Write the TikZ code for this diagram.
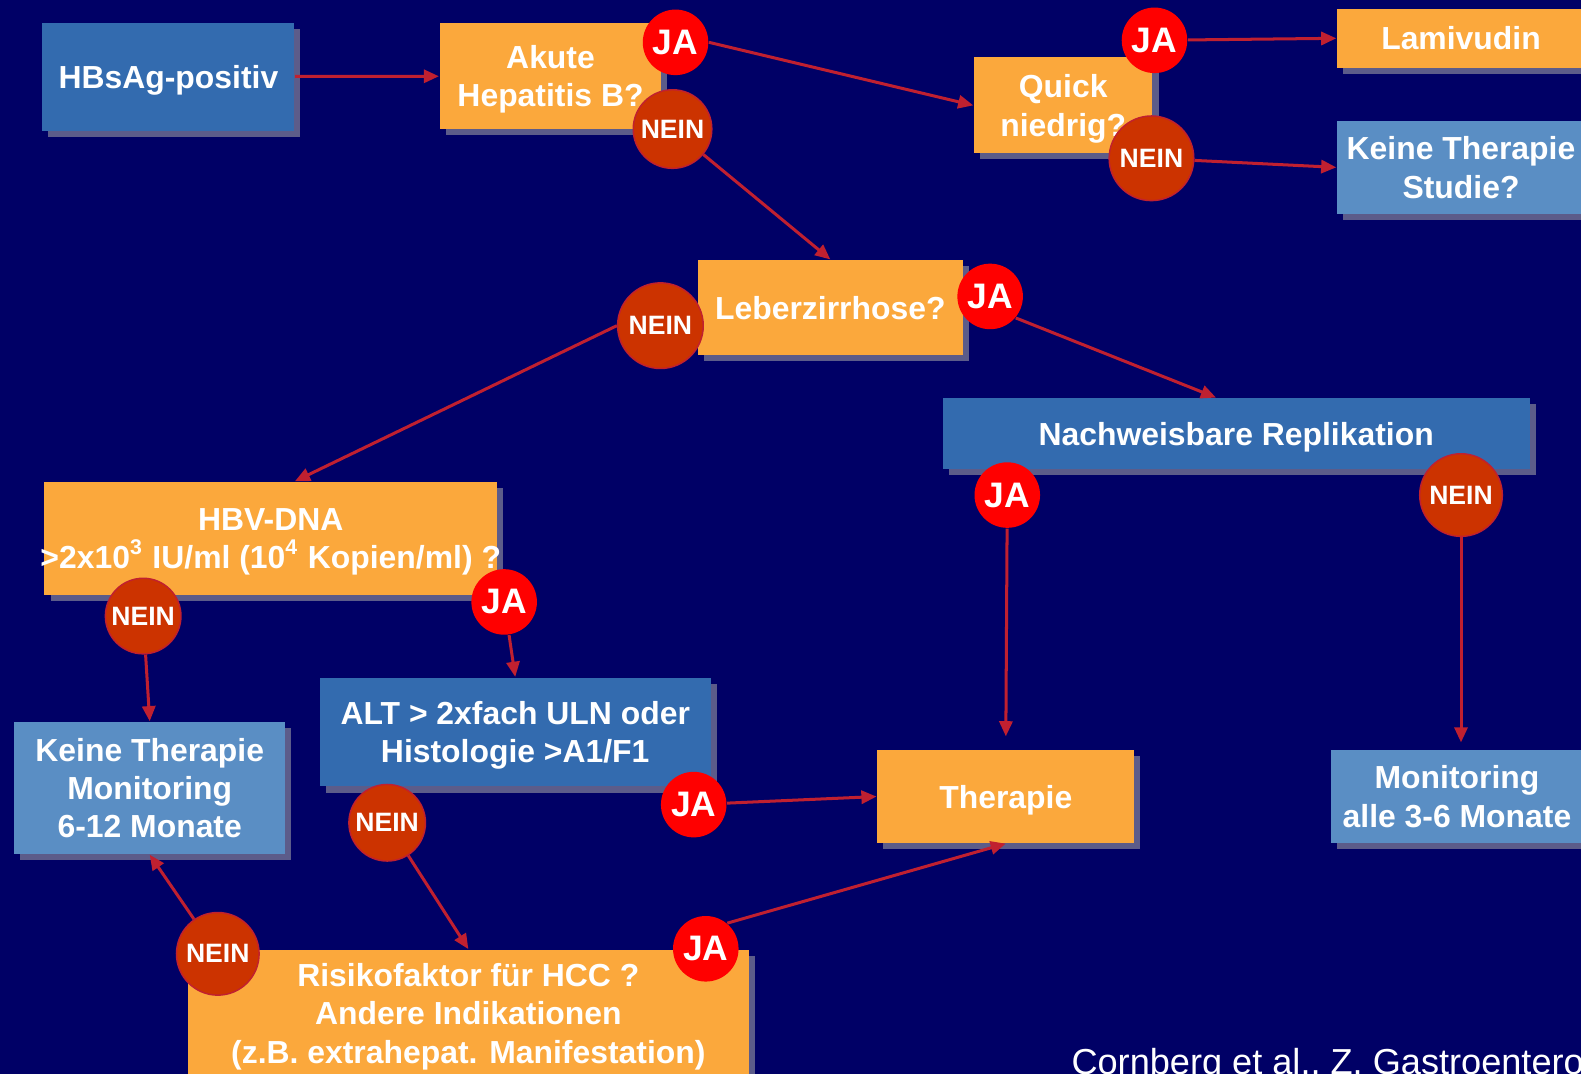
\documentclass[tikz,border=0pt]{standalone}
\usepackage{fontspec}
\setmainfont{Liberation Sans}
\usepackage{tikz}
\usetikzlibrary{arrows.meta}
\usetikzlibrary{shadows}
\definecolor{hintergrund}{RGB}{0,0,102}
\definecolor{orangebox}{RGB}{251,168,60}
\definecolor{dunkelblau}{RGB}{51,107,175}
\definecolor{hellblau}{RGB}{90,142,196}
\definecolor{jarot}{RGB}{255,0,0}
\definecolor{neinrot}{RGB}{204,51,0}
\definecolor{pfeilrot}{RGB}{192,32,48}
\definecolor{schatten}{RGB}{92,92,138}
\tikzset{
kasten/.style={ % Sets the properties for each box
rectangle, inner sep=0pt, align=center, text=white, text depth=0pt,
font=\fontsize{9}{10.8}\selectfont\bfseries,
general shadow={fill=schatten, shadow xshift=0.6mm, shadow yshift=-0.6mm}},
frage/.style={kasten, fill=orangebox},
blau/.style={kasten, fill=dunkelblau},
hell/.style={kasten, fill=hellblau},
ja/.style={ % Red answer bubbles
circle, fill=jarot, inner sep=0pt, minimum size=6.5mm, text=white,
font=\fontsize{10}{12}\selectfont\bfseries},
nein/.style={
circle, fill=neinrot, draw=pfeilrot, thin, inner sep=0pt, minimum size=8mm,
text=white, font=\fontsize{7.5}{9}\selectfont\bfseries},
every edge/.style={ % Sets the properties for each arrow
draw=pfeilrot,
-{Triangle[length=1.5mm,width=1.3mm]},
line width=0.85pt}}

\begin{document}
\begin{tikzpicture}[x=0.1mm, y=-0.1mm]
\useasboundingbox (0,0) rectangle (1568,1065);
\clip (0,0) rectangle (1568,1065);
\fill[hintergrund] (0,0) rectangle (1568,1065);

% boxes
\node[blau, minimum width=25mm, minimum height=10.7mm] (hbsag) at (167,76) {HBsAg-positiv};
\node[frage, minimum width=22mm, minimum height=10.5mm] (akute) at (546,75.5) {Akute\\Hepatitis B?};
\node[frage, minimum width=17.7mm, minimum height=9.5mm] (quick) at (1054.5,104.5) {Quick\\niedrig?};
\node[frage, minimum width=24.6mm, minimum height=5.8mm] (lamivudin) at (1449,38) {Lamivudin};
\node[hell, minimum width=24.6mm, minimum height=9.2mm] (studie) at (1449,166) {Keine Therapie\\Studie?};
\node[frage, minimum width=26.3mm, minimum height=9.4mm] (leber) at (823.5,305) {Leberzirrhose?};
\node[blau, minimum width=58.2mm, minimum height=7mm] (replik) at (1226,430) {Nachweisbare Replikation};
\node[frage, inner xsep=-0.4mm, minimum height=11.2mm] (hbvdna) at (268.5,534)
  {HBV-DNA\\>2x10\textsuperscript{3} IU/ml (10\textsuperscript{4} Kopien/ml) ?};
\node[blau, minimum width=38.8mm, minimum height=10.8mm] (alt) at (511,726) {ALT > 2xfach ULN oder\\Histologie >A1/F1};
\node[hell, minimum width=26.9mm, minimum height=13.1mm] (keinemon) at (148.5,781.5) {Keine Therapie\\Monitoring\\6-12 Monate};
\node[frage, minimum width=25.5mm, minimum height=9.2mm] (therapie) at (997.5,790) {Therapie};
\node[hell, minimum width=25mm, minimum height=9.2mm] (monitor) at (1445,790) {Monitoring\\alle 3-6 Monate};
\node[frage, minimum width=55.7mm, minimum height=12.6mm] (risiko) at (464.5,1005)
  {Risikofaktor für HCC ?\\Andere Indikationen\\(z.B. extrahepat. Manifestation)};

% answers
\node[ja] (ja1) at (670,42) {JA};
\node[nein, minimum size=7.8mm] (nein1) at (667,128) {NEIN};
\node[ja] (ja2) at (1145,40) {JA};
\node[nein, minimum size=8.4mm] (nein2) at (1142,157) {NEIN};
\node[ja] (ja3) at (982,294) {JA};
\node[nein, minimum size=8.5mm] (nein3) at (655,323) {NEIN};
\node[ja] (ja4) at (999,491) {JA};
\node[nein, minimum size=8.2mm] (nein4) at (1449,491) {NEIN};
\node[nein, minimum size=7.5mm] (nein5) at (142,611) {NEIN};
\node[ja] (ja5) at (500,597) {JA};
\node[nein, minimum size=7.6mm] (nein6) at (384,816) {NEIN};
\node[ja] (ja6) at (688,798) {JA};
\node[nein, minimum size=8.2mm] (nein7) at (216,946) {NEIN};
\node[ja] (ja7) at (700,941) {JA};

\draw (hbsag) edge (akute);
\draw (ja1.east) edge (quick.west);
\draw (nein1) edge (leber.north);
\draw (ja2) edge (lamivudin.west);
\draw (nein2) edge (studie.west);
\draw (ja3.-40) edge ([xshift=-2mm]replik.north);
\draw (nein3.west) edge ([xshift=2.4mm]hbvdna.north);
\draw (ja4) edge[shorten >=1.3mm] (therapie.north);
\draw (nein4) edge[shorten >=0.7mm] (nein4 |- monitor.north);
\draw (nein5) edge (keinemon.north);
\draw (ja5) edge (alt.north);
\draw (ja6) edge (therapie.west);
\draw (nein6) edge (risiko.north);
\draw (nein7) edge (keinemon.south);
\draw (ja7.50) edge (therapie.south);

\node[anchor=base west, inner sep=0pt, text=white, font=\fontsize{10.2}{12}\selectfont] (quelle) at (1062,1066)
  {Cornberg et al., Z. Gastroentero};
\end{tikzpicture}
\end{document}
